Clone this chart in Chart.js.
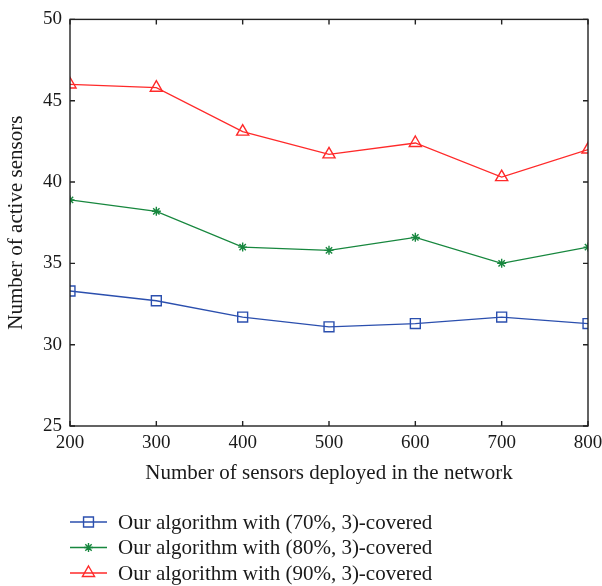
<!DOCTYPE html>
<html>
<head>
<meta charset="utf-8">
<script src="https://cdn.jsdelivr.net/npm/chart.js@4.4.1/dist/chart.umd.min.js"></script>
<style>
  html, body { margin: 0; padding: 0; background: #ffffff; }
  #wrap { width: 602px; height: 586px; position: relative; }
</style>
</head>
<body>
<div id="wrap"><canvas id="c" width="602" height="586"></canvas></div>
<script>
// ---- data ----
const sensorsDeployed = [200, 300, 400, 500, 600, 700, 800];
const covered70 = [33.3, 32.7, 31.7, 31.1, 31.3, 31.7, 31.3];
const covered80 = [38.9, 38.2, 36.0, 35.8, 36.6, 35.0, 36.0];
const covered90 = [46.0, 45.8, 43.1, 41.7, 42.4, 40.3, 42.0];
const seriesLabels = [
  'Our algorithm with (70%, 3)-covered',
  'Our algorithm with (80%, 3)-covered',
  'Our algorithm with (90%, 3)-covered'
];
const xTitle = 'Number of sensors deployed in the network';
const yTitle = 'Number of active sensors';

const FONT = '"Liberation Serif", "DejaVu Serif", serif';
const colors = ['#2b4fae', '#17873e', '#ff2a2a'];
const styles = ['rect', 'star', 'triangle'];
const radii = [7, 4.5, 7];

function pts(vals) { return sensorsDeployed.map((x, i) => ({ x: x, y: vals[i] })); }

const datasets = [covered70, covered80, covered90].map((vals, i) => ({
  label: seriesLabels[i],
  data: pts(vals),
  borderColor: colors[i],
  backgroundColor: 'rgba(0,0,0,0)',
  pointBorderColor: colors[i],
  pointBackgroundColor: 'rgba(0,0,0,0)',
  pointStyle: styles[i],
  pointRadius: radii[i],
  pointBorderWidth: 1.4,
  borderWidth: 1.3,
  tension: 0,
  fill: false
}));

const frameTicks = {
  id: 'frameTicks',
  afterDatasetsDraw(chart) {
    const ctx = chart.ctx;
    const a = chart.chartArea;
    const xs = chart.scales.x, ys = chart.scales.y;
    ctx.save();
    ctx.strokeStyle = '#222';
    ctx.lineWidth = 1.4;
    ctx.strokeRect(a.left, a.top, a.right - a.left, a.bottom - a.top);
    const L = 5;
    ctx.beginPath();
    xs.ticks.forEach(t => {
      const px = xs.getPixelForValue(t.value);
      ctx.moveTo(px, a.bottom); ctx.lineTo(px, a.bottom - L);
      ctx.moveTo(px, a.top); ctx.lineTo(px, a.top + L);
    });
    ys.ticks.forEach(t => {
      const py = ys.getPixelForValue(t.value);
      ctx.moveTo(a.left, py); ctx.lineTo(a.left + L, py);
      ctx.moveTo(a.right, py); ctx.lineTo(a.right - L, py);
    });
    ctx.stroke();
    ctx.restore();
  },
  afterDraw(chart) {
    const ctx = chart.ctx;
    const a = chart.chartArea;
    ctx.save();
    chart.data.datasets.forEach((ds, i) => {
      const y = 522 + i * 25.5;
      const x0 = a.left, x1 = a.left + 37;
      ctx.strokeStyle = ds.borderColor;
      ctx.lineWidth = 1.3;
      ctx.beginPath(); ctx.moveTo(x0, y); ctx.lineTo(x1, y); ctx.stroke();
      ctx.fillStyle = 'rgba(0,0,0,0)';
      ctx.lineWidth = 1.4;
      Chart.helpers.drawPoint(ctx, { pointStyle: ds.pointStyle, radius: ds.pointRadius, rotation: 0, borderWidth: 1.4 }, (x0 + x1) / 2, y);
      ctx.fillStyle = '#1a1a1a';
      ctx.font = '21px ' + FONT;
      ctx.textBaseline = 'middle';
      ctx.textAlign = 'left';
      ctx.fillText(ds.label, a.left + 48, y + 1);
    });
    ctx.restore();
  }
};

new Chart(document.getElementById('c'), {
  type: 'line',
  data: { datasets: datasets },
  options: {
    responsive: false,
    animation: false,
    layout: { padding: { top: 17, right: 14, bottom: 100, left: 0 } },
    plugins: { legend: { display: false }, tooltip: { enabled: false } },
    scales: {
      x: {
        type: 'linear', min: 200, max: 800,
        afterFit(s) { s.height = 60; s.paddingRight = 0; s.paddingLeft = 0; },
        ticks: { stepSize: 100, color: '#1a1a1a', padding: 6, font: { family: FONT, size: 19 } },
        grid: { display: false, drawTicks: false },
        border: { display: false },
        title: { display: true, text: xTitle, color: '#1a1a1a', font: { family: FONT, size: 21 }, padding: { top: 0, bottom: 0 } }
      },
      y: {
        type: 'linear', min: 25, max: 50,
        afterFit(s) { s.width = 70; },
        ticks: { stepSize: 5, color: '#1a1a1a', padding: 8, font: { family: FONT, size: 19 } },
        grid: { display: false, drawTicks: false },
        border: { display: false },
        title: { display: true, text: yTitle, color: '#1a1a1a', font: { family: FONT, size: 21 } }
      }
    }
  },
  plugins: [frameTicks]
});
</script>
</body>
</html>
